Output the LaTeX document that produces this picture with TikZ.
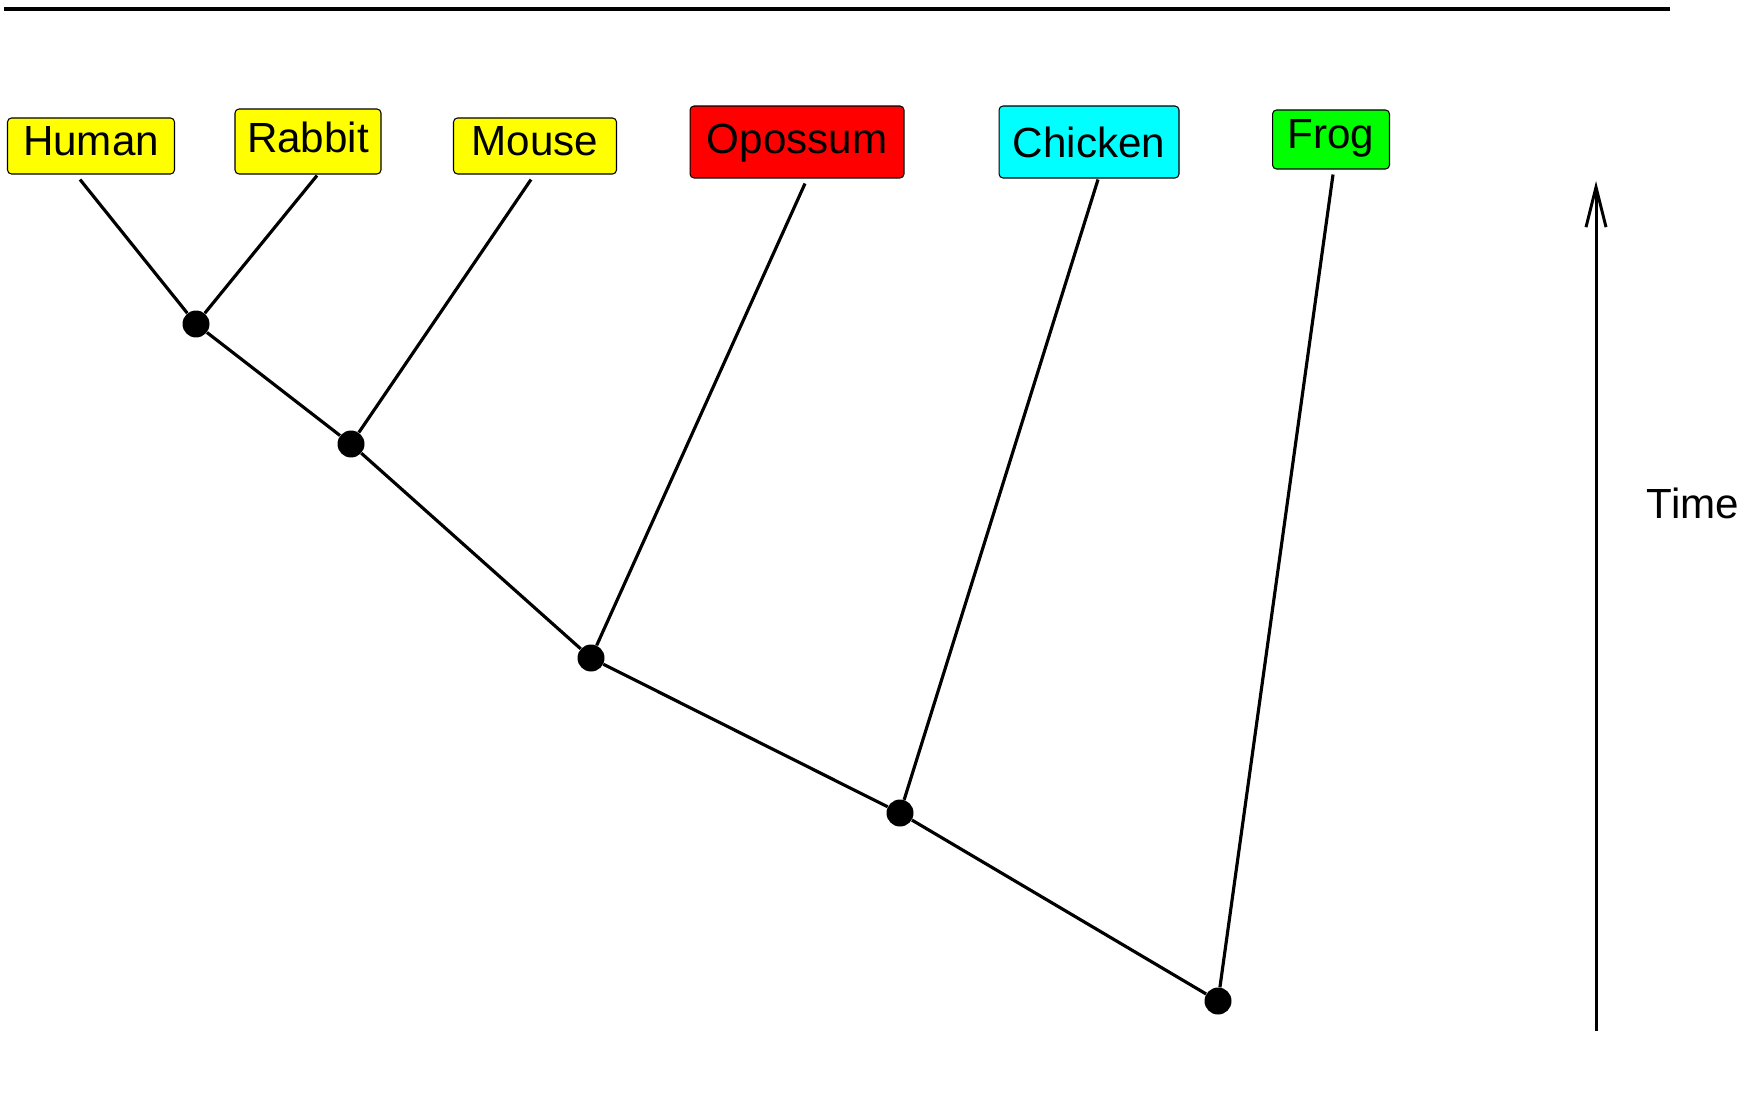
\documentclass[tikz,border=0pt]{standalone}
\usepackage{fontspec}
\setmainfont{Liberation Sans}
\usetikzlibrary{arrows.meta}
\definecolor{leafyellow}{RGB}{255,255,0}
\definecolor{leafred}{RGB}{255,0,0}
\definecolor{leafcyan}{RGB}{0,255,255}
\definecolor{leafgreen}{RGB}{0,255,0}
\begin{document}
\begin{tikzpicture}[x=0.02cm, y=-0.02cm,
    taxon/.style = {draw, line width=0.6pt, rounded corners=0.08cm, inner sep=0pt, anchor=base,
                    font=\fontsize{24}{28}\selectfont},
    split/.style = {circle, fill=black, inner sep=0pt, minimum size=0.54cm},
    branch/.style = {line width=1.8pt}]
    \useasboundingbox (0,0) rectangle (1746,1094);
    \draw[line width=2.3pt] (4,9) -- (1670,9);
    % leaves
    \node[taxon, fill=leafyellow, minimum width=3.34cm, text height=0.76cm, text depth=0.36cm] (human) at (91,156) {Human};
    \node[taxon, fill=leafyellow, minimum width=2.92cm, text height=0.88cm, text depth=0.42cm] (rabbit) at (308,153) {Rabbit};
    \node[taxon, fill=leafyellow, minimum width=3.26cm, text height=0.76cm, text depth=0.36cm] (mouse) at (535,156) {Mouse};
    \node[taxon, fill=leafred, minimum width=4.28cm, text height=0.96cm, text depth=0.48cm] (opossum) at (797,154) {Opossum};
    \node[taxon, fill=leafcyan, minimum width=3.60cm, text height=1.04cm, text depth=0.40cm] (chicken) at (1089,158) {Chicken};
    \node[taxon, fill=leafgreen, minimum width=2.34cm, text height=0.78cm, text depth=0.40cm] (frog) at (1331,149) {Frog};
    % ancestors
    \node[split] (1) at (196,324) {};
    \node[split] (2) at (351,444) {};
    \node[split] (3) at (591,658) {};
    \node[split] (4) at (900,813) {};
    \node[split] (5) at (1218,1001) {};
    \draw[branch] (1) -- (2);
    \draw[branch] (2) -- (3);
    \draw[branch] (3) -- (4);
    \draw[branch] (4) -- (5);
    \draw[branch] ([xshift=-0.22cm,yshift=-0.1cm]human.south) -- (1);
    \draw[branch] ([xshift=0.18cm,yshift=-0.02cm]rabbit.south) -- (1);
    \draw[branch] ([xshift=-0.08cm,yshift=-0.1cm]mouse.south) -- (2);
    \draw[branch] ([xshift=0.16cm,yshift=-0.1cm]opossum.south) -- (3);
    \draw[branch] ([xshift=0.18cm,yshift=-0.02cm]chicken.south) -- (4);
    \draw[branch] ([xshift=0.04cm,yshift=-0.1cm]frog.south) -- (5);
    % time axis
    \coordinate (tbot) at (1596,1031);
    \coordinate (ttop) at (1596,181);
    \draw[line width=1.7pt, -{Straight Barb[length=0.8cm, width=0.4cm]}] (tbot) -- (ttop);
    \node[font=\fontsize{24}{28}\selectfont] (time) at (1693,503) {Time};
\end{tikzpicture}
\end{document}
